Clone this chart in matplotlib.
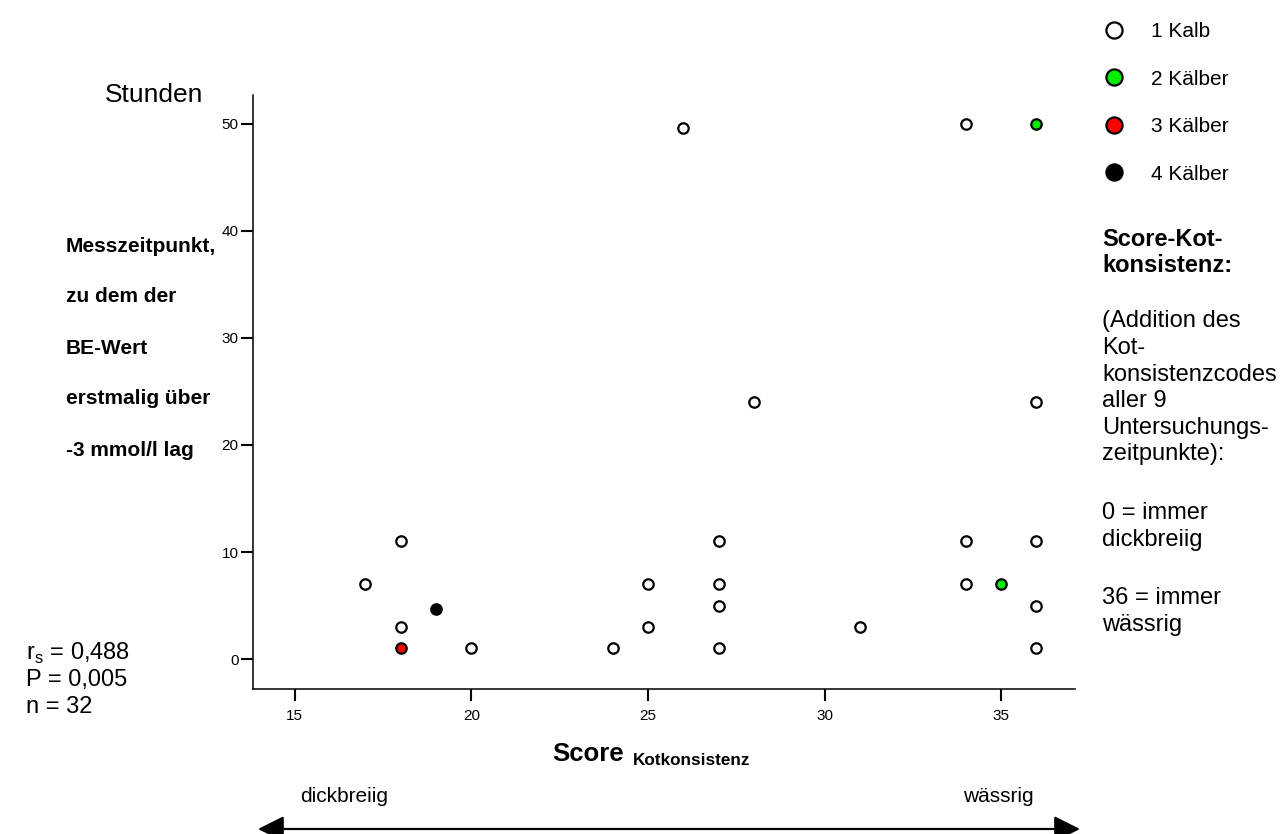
import matplotlib
matplotlib.use("Agg")
import matplotlib.pyplot as plt
from matplotlib.patches import FancyArrowPatch

plt.rcParams['font.family'] = ['Liberation Sans', 'DejaVu Sans']
plt.rcParams['mathtext.fontset'] = 'custom'
plt.rcParams['mathtext.rm'] = 'Liberation Sans'
plt.rcParams['mathtext.bf'] = 'Liberation Sans:bold'

# Daten: Score Kotkonsistenz vs. Stunden, nach Anzahl Kälber
x_1kalb = [17, 18, 18, 20, 24, 25, 25, 26, 27, 27, 27, 27, 28, 31, 34, 34, 34, 36, 36, 36, 36]
y_1kalb = [7, 11, 3, 1, 1, 7, 3, 49.6, 11, 7, 5, 1, 24, 3, 50, 11, 7, 24, 11, 5, 1]
x_2kaelber = [35, 36]
y_2kaelber = [7, 50]
x_3kaelber = [18]
y_3kaelber = [1]
x_4kaelber = [19]
y_4kaelber = [4.7]

gruppen = ["1 Kalb", "2 Kälber", "3 Kälber", "4 Kälber"]
farben = ["white", "#00ee00", "#ff0000", "black"]

xticks = [15, 20, 25, 30, 35]
yticks = [0, 10, 20, 30, 40, 50]

W, H = 1288, 834
fig = plt.figure(figsize=(W / 100, H / 100), dpi=100)

def fx(px):
    return px / W

def fy(py):
    return 1 - py / H

ax = fig.add_axes([fx(253), fy(689), fx(1075 - 253), (689 - 95) / H])
ax.set_xlim(13.82, 37.09)
ax.set_ylim(-2.8, 52.7)

handles = []
for xs, ys, c in zip([x_1kalb, x_2kaelber, x_3kaelber, x_4kaelber],
                     [y_1kalb, y_2kaelber, y_3kaelber, y_4kaelber], farben):
    h, = ax.plot(xs, ys, linestyle='none', marker='o', markersize=7.5,
                 markerfacecolor=c, markeredgecolor='black', markeredgewidth=1.6,
                 clip_on=False, zorder=3)
    handles.append(h)

for s in ['top', 'right']:
    ax.spines[s].set_visible(False)
for s in ['left', 'bottom']:
    ax.spines[s].set_linewidth(1.1)
ax.set_xticks(xticks)
ax.set_yticks(yticks)
ax.tick_params(direction='out', length=8.5, width=1.5, labelsize=11)
ax.tick_params(axis='y', pad=2)
ax.tick_params(axis='x', pad=6)

fig.legend(handles, gruppen, loc='upper left', bbox_to_anchor=(fx(1104), fy(22)),
           frameon=False, fontsize=15, markerscale=1.55, handlelength=1.0,
           handletextpad=1.25, labelspacing=1.37, borderpad=0, borderaxespad=0)

fig.text(fx(105), fy(95), "Stunden", fontsize=19, va='center', ha='left')

links = ["Messzeitpunkt,", "zu dem der", "BE-Wert", "erstmalig über", "-3 mmol/l lag"]
for i, t in enumerate(links):
    fig.text(fx(66), fy(246 + 51 * i), t, fontsize=15, fontweight='bold', va='center', ha='left')

stats = [r"r$_\mathregular{s}$ = 0,488", "P = 0,005", "n = 32"]
for i, t in enumerate(stats):
    fig.text(fx(26), fy(653 + 27 * i), t, fontsize=17, va='center', ha='left')

rechts = [("Score-Kot-", 239, True), ("konsistenz:", 265, True),
          ("(Addition des", 321, False), ("Kot-", 348, False),
          ("konsistenzcodes", 375, False), ("aller 9", 401, False),
          ("Untersuchungs-", 428, False), ("zeitpunkte):", 454, False),
          ("0 = immer", 513, False), ("dickbreiig", 540, False),
          ("36 = immer", 598, False), ("wässrig", 625, False)]
for t, py, b in rechts:
    fig.text(fx(1102), fy(py), t, fontsize=17, va='center', ha='left',
             fontweight='bold' if b else 'normal')

fig.text(fx(552), fy(761), "Score", fontsize=18.5, fontweight='bold', va='baseline', ha='left')
fig.text(fx(633), fy(765), "Kotkonsistenz", fontsize=12.3, fontweight='bold', va='baseline', ha='left')

fig.text(fx(344), fy(796), "dickbreiig", fontsize=15, va='center', ha='center')
fig.text(fx(998), fy(796), "wässrig", fontsize=15, va='center', ha='center')

arrow = FancyArrowPatch((fx(258), fy(829)), (fx(1080), fy(829)), transform=fig.transFigure,
                        arrowstyle='<|-|>,head_length=10,head_width=5', mutation_scale=1.6,
                        shrinkA=0, shrinkB=0, color='black', linewidth=1.6)
fig.patches.append(arrow)

fig.savefig("out.png", dpi=100)
